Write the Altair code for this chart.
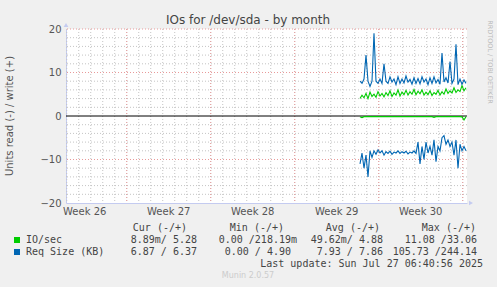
import altair as alt
import pandas as pd

# ---------------- data ----------------
t_start = 24.5          # days from left edge of graph where data begins
t_step = 1 / 6          # 4-hour samples

write_req = [8.0, 7.5, 8.5, 14.0, 8.0, 6.8, 8.0, 19.0, 8.0, 7.5,
             8.5, 7.5, 12.0, 8.0, 7.5, 9.0, 7.8, 8.5, 7.2, 9.0,
             7.5, 8.5, 7.6, 9.2, 7.8, 8.4, 7.3, 8.8, 7.5, 8.6,
             7.4, 9.0, 7.8, 8.5, 7.2, 8.8, 7.5, 9.0, 7.6, 8.4,
             7.3, 14.5, 7.8, 8.8, 7.6, 12.5, 7.5, 8.5, 16.5, 7.2,
             8.5, 7.3, 8.3, 7.5]
write_io = [4.0, 4.8, 4.2, 5.2, 4.0, 5.5, 4.5, 5.0, 4.3, 5.6,
            4.6, 5.2, 4.4, 5.4, 4.7, 5.8, 4.5, 5.3, 4.8, 6.0,
            4.6, 5.5, 4.9, 5.9, 4.8, 5.6, 5.0, 6.1, 4.9, 5.7,
            5.1, 6.0, 4.8, 5.5, 4.9, 5.8, 4.7, 5.4, 5.0, 5.9,
            4.8, 5.6, 5.0, 6.2, 5.2, 5.8, 5.3, 6.5, 5.4, 6.0,
            5.6, 7.0, 5.8, 6.5]
read_req = [-11.0, -8.5, -12.0, -9.0, -14.0, -8.0, -9.5, -8.0, -8.8, -7.8,
            -8.5, -8.0, -9.0, -8.2, -8.6, -8.1, -8.8, -8.3, -8.5, -8.0,
            -8.6, -8.2, -8.5, -8.1, -8.7, -8.3, -8.5, -8.0, -8.6, -6.0,
            -11.0, -7.0, -10.0, -6.0, -8.5, -7.0, -9.0, -5.5, -10.5, -7.0,
            -8.0, -5.0, -4.5, -6.5, -5.5, -7.0, -6.0, -9.0, -5.5, -12.0,
            -6.5, -8.0, -7.0, -8.0]
read_io = [-0.15, -0.4, -0.15, -0.1, -0.15, -0.1, -0.15, -0.1, -0.15, -0.1,
           -0.15, -0.1, -0.15, -0.1, -0.15, -0.1, -0.15, -0.1, -0.15, -0.1,
           -0.15, -0.1, -0.15, -0.1, -0.15, -0.1, -0.15, -0.1, -0.15, -0.1,
           -0.15, -0.1, -0.15, -0.1, -0.15, -0.1, -0.15, -0.3, -0.15, -0.1,
           -0.15, -0.1, -0.15, -0.1, -0.15, -0.1, -0.15, -0.1, -0.15, -0.1,
           -0.15, -0.2, -0.9, -0.15]

series_names = ["IO/sec", "Req Size (KB)"]
series_colors = ["#00CC00", "#0066B3"]

week_labels = ["Week 26", "Week 27", "Week 28", "Week 29", "Week 30"]
week_mids = [1.56, 8.56, 15.56, 22.56, 29.56]
week_starts = [5.06, 12.06, 19.06, 26.06, 33.06]
day_lines = [0.06 + d for d in range(34)]
y_minor = [-18, -16, -14, -12, -8, -6, -4, -2, 2, 4, 6, 8, 12, 14, 16, 18]
y_major = [-10, 10, 20]
y_ticks = [-20, -10, 0, 10, 20]

legend_header = ["Cur (-/+)", "Min (-/+)", "Avg (-/+)", "Max (-/+)"]
io_stats = ["8.89m/ 5.28", "0.00 /218.19m", "49.62m/ 4.88", "11.08 /33.06"]
req_stats = ["6.87 / 6.37", "0.00 / 4.90", "7.93 / 7.86", "105.73 /244.14"]

# ---------------- layout ----------------
W, H = 401, 174
PAD_L, PAD_T = 66, 29
X_MAX = W / 12.0
AXIS_COL = "#c4cbf0"

rows = []
for name, part, vals in [("IO/sec", "write", write_io), ("IO/sec", "read", read_io),
                         ("Req Size (KB)", "write", write_req), ("Req Size (KB)", "read", read_req)]:
    for k, v in enumerate(vals):
        rows.append({"series": name, "part": part, "day": t_start + k * t_step, "value": v})
df = pd.DataFrame(rows)

xs = alt.Scale(domain=[0, X_MAX], nice=False, zero=False)
ys = alt.Scale(domain=[-20, 20], nice=False, zero=False)

x_axis = alt.Axis(labels=False, ticks=False, grid=False, title=None,
                  domainColor=AXIS_COL, domainWidth=1)
y_axis = alt.Axis(values=y_ticks, grid=False, title=None, ticks=False,
                  domainColor=AXIS_COL, domainWidth=1,
                  labelFont="DejaVu Sans", labelFontSize=10,
                  labelColor="#555555", labelPadding=5)

minor_v = alt.Chart(pd.DataFrame({"d": day_lines})).mark_rule(
    color="#c4c4c4", strokeWidth=1, strokeDash=[1, 2]).encode(
    x=alt.X("d:Q", scale=xs, axis=x_axis))
major_v = alt.Chart(pd.DataFrame({"d": week_starts})).mark_rule(
    color="#e89a9a", strokeWidth=1, strokeDash=[1, 2]).encode(
    x=alt.X("d:Q", scale=xs, axis=x_axis))
minor_h = alt.Chart(pd.DataFrame({"v": y_minor})).mark_rule(
    color="#c4c4c4", strokeWidth=1, strokeDash=[1, 2]).encode(
    y=alt.Y("v:Q", scale=ys, axis=y_axis))
major_h = alt.Chart(pd.DataFrame({"v": y_major})).mark_rule(
    color="#e89a9a", strokeWidth=1, strokeDash=[1, 2]).encode(
    y=alt.Y("v:Q", scale=ys, axis=y_axis))
zero_line = alt.Chart(pd.DataFrame({"v": [0]})).mark_rule(
    color="#000000", strokeWidth=1).encode(
    y=alt.Y("v:Q", scale=ys, axis=y_axis))

lines = alt.Chart(df).mark_line(strokeWidth=1.1, interpolate="linear").encode(
    x=alt.X("day:Q", scale=xs, axis=x_axis),
    y=alt.Y("value:Q", scale=ys, axis=y_axis),
    color=alt.Color("series:N", scale=alt.Scale(domain=series_names, range=series_colors), legend=None),
    detail="part:N",
)

week_text = alt.Chart(pd.DataFrame({"d": week_mids, "lab": week_labels})).mark_text(
    font="DejaVu Sans", fontSize=10, color="#555555", baseline="middle", align="center").encode(
    x=alt.X("d:Q", scale=xs, axis=x_axis), y=alt.value(212 - PAD_T), text="lab:N")

one = pd.DataFrame({"a": [0]})


def txt(s, x, y, size=10, color="#444444", align="left", font="DejaVu Sans Mono", angle=None):
    kw = dict(text=s, font=font, fontSize=size, color=color, align=align, baseline="middle")
    if angle is not None:
        kw["angle"] = angle
    return alt.Chart(one).mark_text(**kw).encode(x=alt.value(x - PAD_L), y=alt.value(y - PAD_T))


texts = [
    txt("IOs for /dev/sda - by month", 248, 20, size=12, font="DejaVu Sans", align="center", color="#444444"),
    txt("Units read (-) / write (+)", 10, 116, size=10, font="DejaVu Sans", align="center", angle=270, color="#555555"),
    txt("RRDTOOL / TOBI OETIKER", 490, 62, size=6.5, font="DejaVu Sans", align="center", angle=90, color="#bbbbbb"),
    txt("Munin 2.0.57", 248, 276, size=8, font="DejaVu Sans", align="center", color="#cccccc"),
    txt("IO/sec", 26, 240),
    txt("Req Size (KB)", 26, 252),
    txt("Last update: Sun Jul 27 06:40:56 2025", 483, 264, align="right"),
]
for s, xr in zip(legend_header, [187, 284, 380, 476]):
    texts.append(txt(s, xr, 228, align="right"))
for s, xr in zip(io_stats, [197, 297, 383, 477]):
    texts.append(txt(s, xr, 240, align="right"))
for s, xr in zip(req_stats, [197, 291, 383, 477]):
    texts.append(txt(s, xr, 252, align="right"))

squares = [
    alt.Chart(one).mark_square(size=36, filled=True, color=c, opacity=1).encode(
        x=alt.value(17 - PAD_L), y=alt.value(yy - PAD_T))
    for c, yy in zip(series_colors, [240, 252])
]
arrows = [
    alt.Chart(one).mark_point(shape="triangle-up", size=22, filled=True, color=AXIS_COL, opacity=1).encode(
        x=alt.value(0), y=alt.value(-4)),
    alt.Chart(one).mark_point(shape="triangle-right", size=22, filled=True, color=AXIS_COL, opacity=1).encode(
        x=alt.value(W + 4), y=alt.value(H)),
]

chart = alt.layer(minor_v, minor_h, major_v, major_h, zero_line, lines, week_text,
                  *squares, *arrows, *texts).properties(
    width=W, height=H,
    autosize=alt.AutoSizeParams(type="none"),
    padding={"left": PAD_L, "top": PAD_T, "right": 497 - PAD_L - W, "bottom": 287 - PAD_T - H},
).configure(background="#F0F0F0").configure_view(fill="white", stroke=None)

chart.save("out.html", embed_options={"renderer": "svg", "actions": False})
